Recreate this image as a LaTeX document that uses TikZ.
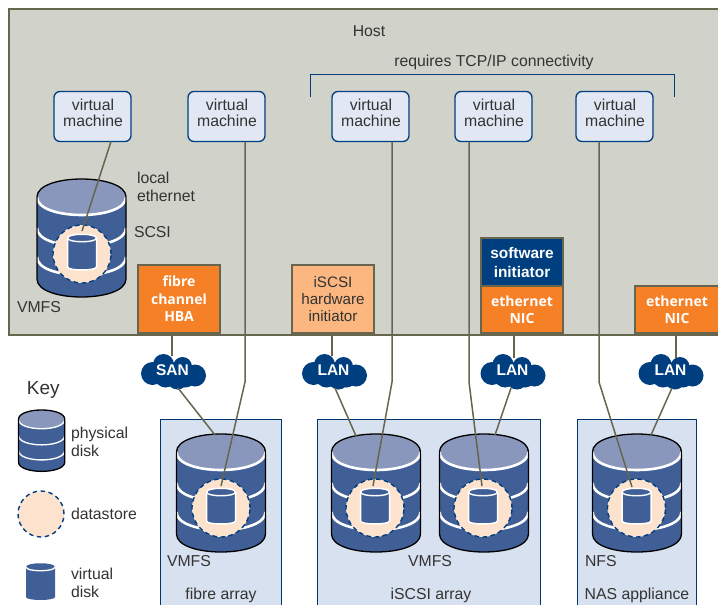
\documentclass[tikz,border=0pt]{standalone}
\usepackage{fontspec}
\setmainfont{Liberation Sans}
\newfontfamily\boxfont{Open Sans}
\definecolor{hostfill}{HTML}{D1D3CA}
\definecolor{linecol}{HTML}{66664F}
\definecolor{navy}{HTML}{003F7F}
\definecolor{diskbody}{HTML}{3F5F96}
\definecolor{disktop}{HTML}{8A97BD}
\definecolor{dsfill}{HTML}{FDE3CD}
\definecolor{orangebox}{HTML}{F58025}
\definecolor{paleorange}{HTML}{FBB77F}
\definecolor{panelfill}{HTML}{D8E1EF}
\definecolor{vmfill}{HTML}{E1E8F4}
\definecolor{txt}{HTML}{333333}
\newcommand{\physdisk}[3]{%
\begin{scope}[shift={(#1,#2)},scale=#3]
\fill[diskbody] (0,18) .. controls (0,-6) and (89,-6) .. (89,18) -- (89,100) .. controls (89,124) and (0,124) .. (0,100) -- cycle;
\fill[disktop] (0,18) .. controls (0,-6) and (89,-6) .. (89,18) .. controls (89,42) and (0,42) .. (0,18) -- cycle;
\draw[white,line width=#3*2.6pt] (0,18) .. controls (0,42) and (89,42) .. (89,18);
\draw[white,line width=#3*2.6pt] (0,49) .. controls (0,73) and (89,73) .. (89,49);
\draw[white,line width=#3*2.6pt] (0,78) .. controls (0,102) and (89,102) .. (89,78);
\draw[black,line width=1.3pt] (0,18) .. controls (0,-6) and (89,-6) .. (89,18) -- (89,100) .. controls (89,124) and (0,124) .. (0,100) -- cycle;
\end{scope}}
\newcommand{\virtdisk}[2]{%
\begin{scope}[shift={(#1,#2)}]
\fill[diskbody] (0,4) .. controls (0,-1) and (29,-1) .. (29,4) -- (29,34) .. controls (29,38) and (0,38) .. (0,34) -- cycle;
\draw[white,line width=1.3pt] (0,4) .. controls (0,9) and (29,9) .. (29,4);
\end{scope}}
\newcommand{\virtdiskout}[2]{%
\begin{scope}[shift={(#1,#2)}]
\draw[white,line width=1.5pt,fill=diskbody] (0,4) .. controls (0,-1) and (29,-1) .. (29,4) -- (29,33) .. controls (29,37) and (0,37) .. (0,33) -- cycle;
\draw[white,line width=1.4pt] (0,4) .. controls (0,9) and (29,9) .. (29,4);
\end{scope}}
\newcommand{\cloudshape}[2]{%
\begin{scope}[shift={(#1,#2)}]
\fill[navy] (-21,2) circle[radius=11.5pt] (-10,-7) circle[radius=10.5pt] (9,-5) circle[radius=9.5pt] (21.5,4) circle[radius=11pt] (4,7) circle[radius=11pt] (-8,5) circle[radius=11pt] (12,6) circle[radius=10pt];
\end{scope}}
\tikzset{
 every node/.style={outer sep=0pt},
 vmbox/.style={draw=navy,line width=1.3pt,fill=vmfill,rounded corners=6pt,minimum width=77pt,minimum height=50pt,inner sep=0pt,align=center,text=txt},
 vmtext/.style={text=txt,inner sep=0pt,align=center,font=\fontsize{15.8}{16.5}\selectfont},
 hbabox/.style={draw=linecol,line width=1.5pt,inner sep=0pt,align=center,font=\boxfont\bfseries\fontsize{14}{17.5}\selectfont},
 cloudnode/.style={text=white,inner sep=0pt,minimum width=60pt,minimum height=30pt,font=\bfseries\fontsize{15.5}{17}\selectfont},
 dstore/.style={circle,draw=navy,dashed,dash pattern=on 4.5pt off 3.5pt,line width=1.4pt,fill=dsfill,inner sep=0pt},
 panel/.style={draw=navy!85!black,line width=1.2pt,fill=panelfill,inner sep=0pt},
 lab/.style={text=txt,inner sep=0pt,align=left,font=\fontsize{15.8}{17.5}\selectfont},
 conn/.style={draw=linecol,line width=1.5pt},
}
\begin{document}
\begin{tikzpicture}[x=1pt,y=-1pt]
\useasboundingbox (0,0) rectangle (718,605);
\node[draw=linecol,line width=1.5pt,fill=hostfill,minimum width=712pt,minimum height=326pt,inner sep=0pt,anchor=north west] (host) at (9,9) {};
\node[lab,anchor=center] (hostlab) at (369,31) {Host};
\node[lab,anchor=center] (tcp) at (494,62) {requires TCP/IP connectivity};
\coordinate (bl) at (310,97); \coordinate (br) at (674,97);
\draw[navy,line width=1pt] (bl) -- (310,74) -- (674,74) -- (br);
% panels
\node[panel,minimum width=121pt,minimum height=200pt,anchor=north west] (p1) at (160.5,419.5) {};
\node[panel,minimum width=223pt,minimum height=200pt,anchor=north west] (p2) at (317.5,419.5) {};
\node[panel,minimum width=119pt,minimum height=200pt,anchor=north west] (p3) at (577.5,419.5) {};
% VMs
\node[vmbox] (vm1) at (92.5,116.5) {};
\node[vmbox] (vm2) at (226.5,116.5) {};
\node[vmbox] (vm3) at (370.5,116.5) {};
\node[vmbox] (vm4) at (493.5,116.5) {};
\node[vmbox] (vm5) at (614.5,116.5) {};
\node[vmtext] (vt1) at (93,113) {virtual\\machine};
\node[vmtext] (vt2) at (227,113) {virtual\\machine};
\node[vmtext] (vt3) at (371,113) {virtual\\machine};
\node[vmtext] (vt4) at (494,113) {virtual\\machine};
\node[vmtext] (vt5) at (615,113) {virtual\\machine};
% disks
\physdisk{37}{179}{1}
\physdisk{176.5}{434}{1}
\physdisk{331.5}{434}{1}
\physdisk{439.5}{434}{1}
\physdisk{592.5}{434}{1}
\node[dstore,minimum size=58pt] (ds0) at (82,254) {};
\node[dstore,minimum size=58pt] (ds1) at (221,508) {};
\node[dstore,minimum size=58pt] (ds2) at (375,508) {};
\node[dstore,minimum size=58pt] (ds3) at (483,508) {};
\node[dstore,minimum size=58pt] (ds4) at (636.5,508) {};
\virtdiskout{67.5}{234}
\virtdiskout{206.5}{488}
\virtdiskout{360.5}{488}
\virtdiskout{468.5}{488}
\virtdiskout{622}{488}
\coordinate (vd0) at (82,231);
\coordinate (vd1) at (221,486);
\coordinate (vd2) at (373,486);
\coordinate (vd3) at (482,486);
\coordinate (vd4) at (632,487);
% boxes
\node[hbabox,fill=orangebox,text=white,minimum width=82pt,minimum height=68pt,anchor=north west] (hba) at (138,265) {fibre\\channel\\HBA};
\node[hbabox,fill=paleorange,text=txt,font=\fontsize{15.2}{17}\selectfont,minimum width=82pt,minimum height=68pt,anchor=north west] (hw) at (292,265) {iSCSI\\hardware\\initiator};
\node[hbabox,fill=navy,text=white,font=\bfseries\fontsize{15.4}{19}\selectfont,minimum width=82pt,minimum height=48pt,anchor=north west] (sw) at (481,238) {software\\initiator};
\node[hbabox,fill=orangebox,text=white,minimum width=82pt,minimum height=47pt,anchor=north west] (nic1) at (481,286) {ethernet\\NIC};
\node[hbabox,fill=orangebox,text=white,minimum width=84pt,minimum height=47pt,anchor=north west] (nic2) at (635,286) {ethernet\\NIC};
% clouds
\cloudshape{173.5}{371.5}
\cloudshape{334.5}{371.5}
\cloudshape{513}{371.5}
\cloudshape{671}{371.5}
\node[cloudnode] (san) at (172.5,370.5) {SAN};
\node[cloudnode] (lan1) at (333.5,370.5) {LAN};
\node[cloudnode] (lan2) at (512.5,370.5) {LAN};
\node[cloudnode] (lan3) at (670.5,370.5) {LAN};
% connectors
\draw[conn] (hba.south -| 172,0) -- (172,356);
\draw[conn] (hw.south -| 332,0) -- (332,356);
\draw[conn] (nic1.south -| 514,0) -- (514,358);
\draw[conn] (nic2.south -| 676,0) -- (676,358);
\draw[conn] (vm1.south -| 111,0) -- (vd0);
\draw[conn] (vm2.south -| 245,0) -- (245,382) -- (vd1);
\draw[conn] (vm3.south -| 392,0) -- (392,382) -- (vd2);
\draw[conn] (vm4.south -| 469,0) -- (469,382) -- (vd3);
\draw[conn] (vm5.south -| 599,0) -- (599,382) -- (vd4);
\draw[conn] (178,388) -- (215,435);
\draw[conn] (335,388) -- (356,436);
\draw[conn] (511,388) -- (495,435);
\draw[conn] (672,388) -- (651,435);
% key
\node[lab,anchor=west,font=\fontsize{19}{21}\selectfont] (key) at (27,390) {Key};
\physdisk{18.5}{410}{0.52}
\node[dstore,minimum size=46pt] (kds) at (41,514) {};
\virtdisk{26}{563}
\node[lab,anchor=west] (kl1) at (71,442) {physical\\disk};
\node[lab,anchor=west] (kl2) at (71,514) {datastore};
\node[lab,anchor=west] (kl3) at (71,583) {virtual\\disk};
% labels
\node[lab,anchor=west] (le) at (137,187) {local\\ethernet};
\node[lab,anchor=west] (scsi) at (134,232) {SCSI};
\node[lab,anchor=west] (v0) at (17,307) {VMFS};
\node[lab,anchor=west] (v1) at (167,561) {VMFS};
\node[lab,anchor=center] (v2) at (430,561) {VMFS};
\node[lab,anchor=west] (v3) at (585,561) {NFS};
\node[lab,anchor=center] (a1) at (221,595) {fibre array};
\node[lab,anchor=center] (a2) at (431,595) {iSCSI array};
\node[lab,anchor=center] (a3) at (637,595) {NAS appliance};
\end{tikzpicture}
\end{document}
